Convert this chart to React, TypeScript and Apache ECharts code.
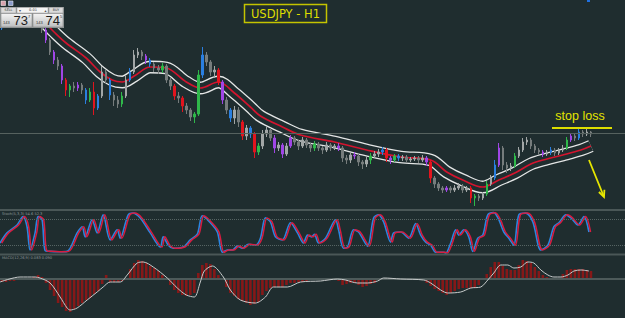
import React, { useEffect, useRef } from "react";
import * as echarts from "echarts";

const BG = "#1f2d2f";

// Hourly USDJPY candles: [open, close, low, high]
const candles: number[][] = [
  [144.72, 144.74, 144.70, 144.76], [144.74, 144.76, 144.72, 144.79], [144.76, 144.78, 144.73, 144.81], [144.78, 144.80, 144.75, 144.83],
  [144.80, 144.79, 144.76, 144.83], [144.79, 144.82, 144.77, 144.85], [144.82, 144.78, 144.75, 144.84], [144.78, 144.81, 144.74, 144.83],
  [144.81, 144.76, 144.73, 144.83], [144.76, 144.78, 144.72, 144.80], [144.78, 144.70, 144.67, 144.80], [144.70, 144.60, 144.57, 144.72],
  [144.60, 144.48, 144.45, 144.62], [144.48, 144.40, 144.36, 144.50], [144.40, 144.34, 144.30, 144.43], [144.34, 144.20, 144.16, 144.36],
  [144.20, 144.10, 144.04, 144.22], [144.10, 144.14, 144.03, 144.16], [144.14, 144.12, 144.08, 144.18], [144.12, 144.15, 144.09, 144.18],
  [144.15, 144.10, 144.06, 144.17], [144.10, 144.00, 143.96, 144.12], [144.00, 144.08, 143.98, 144.12], [144.08, 143.92, 143.85, 144.18],
  [143.92, 144.04, 143.90, 144.06], [144.04, 144.28, 144.02, 144.34], [144.28, 144.20, 144.16, 144.30], [144.20, 144.05, 144.00, 144.22],
  [144.05, 144.00, 143.94, 144.08], [144.00, 143.96, 143.92, 144.04], [143.96, 144.04, 143.93, 144.08], [144.04, 144.20, 144.02, 144.24],
  [144.20, 144.28, 144.18, 144.32], [144.28, 144.45, 144.26, 144.50], [144.45, 144.48, 144.42, 144.52], [144.48, 144.44, 144.40, 144.50],
  [144.44, 144.40, 144.36, 144.46], [144.40, 144.36, 144.33, 144.42], [144.36, 144.32, 144.28, 144.38], [144.32, 144.30, 144.26, 144.35],
  [144.30, 144.34, 144.27, 144.37], [144.34, 144.20, 144.17, 144.36], [144.20, 144.14, 144.10, 144.23], [144.14, 144.04, 144.00, 144.16],
  [144.04, 144.02, 143.97, 144.08], [144.02, 143.94, 143.88, 144.04], [143.94, 143.90, 143.86, 143.97], [143.90, 143.83, 143.79, 143.92],
  [143.83, 143.86, 143.77, 143.88], [143.86, 144.25, 143.84, 144.30], [144.25, 144.45, 144.22, 144.53], [144.45, 144.38, 144.34, 144.48],
  [144.38, 144.28, 144.24, 144.40], [144.28, 144.30, 144.22, 144.34], [144.30, 144.18, 144.15, 144.32], [144.18, 144.00, 143.96, 144.20],
  [144.00, 143.90, 143.86, 144.03], [143.90, 143.82, 143.78, 143.92], [143.82, 143.90, 143.76, 143.94], [143.90, 143.78, 143.73, 143.93],
  [143.78, 143.64, 143.60, 143.80], [143.64, 143.72, 143.60, 143.75], [143.72, 143.66, 143.62, 143.74], [143.66, 143.48, 143.42, 143.68],
  [143.48, 143.54, 143.45, 143.57], [143.54, 143.66, 143.51, 143.70], [143.66, 143.70, 143.63, 143.74], [143.70, 143.62, 143.59, 143.72],
  [143.62, 143.52, 143.47, 143.65], [143.52, 143.55, 143.49, 143.58], [143.55, 143.46, 143.42, 143.57], [143.46, 143.54, 143.44, 143.57],
  [143.54, 143.62, 143.52, 143.65], [143.62, 143.58, 143.55, 143.64], [143.58, 143.54, 143.50, 143.60], [143.54, 143.60, 143.52, 143.63],
  [143.60, 143.55, 143.52, 143.62], [143.55, 143.52, 143.48, 143.57], [143.52, 143.56, 143.49, 143.59], [143.56, 143.52, 143.49, 143.58],
  [143.52, 143.50, 143.46, 143.54], [143.50, 143.55, 143.48, 143.58], [143.55, 143.52, 143.49, 143.57], [143.52, 143.54, 143.50, 143.56],
  [143.54, 143.52, 143.49, 143.57], [143.52, 143.42, 143.38, 143.54], [143.42, 143.40, 143.36, 143.45], [143.40, 143.45, 143.37, 143.48],
  [143.45, 143.44, 143.41, 143.48], [143.44, 143.38, 143.34, 143.46], [143.38, 143.36, 143.31, 143.40], [143.36, 143.40, 143.33, 143.43],
  [143.40, 143.44, 143.36, 143.47], [143.44, 143.46, 143.42, 143.49], [143.46, 143.48, 143.43, 143.51], [143.48, 143.50, 143.45, 143.53],
  [143.50, 143.42, 143.38, 143.52], [143.42, 143.40, 143.36, 143.44], [143.40, 143.44, 143.38, 143.46], [143.44, 143.42, 143.39, 143.46],
  [143.42, 143.43, 143.39, 143.45], [143.43, 143.40, 143.37, 143.45], [143.40, 143.41, 143.38, 143.43], [143.41, 143.42, 143.39, 143.44],
  [143.42, 143.40, 143.37, 143.44], [143.40, 143.42, 143.38, 143.45], [143.42, 143.38, 143.34, 143.44], [143.38, 143.22, 143.17, 143.40],
  [143.22, 143.16, 143.12, 143.24], [143.16, 143.12, 143.09, 143.18], [143.12, 143.10, 143.07, 143.14], [143.10, 143.12, 143.08, 143.14],
  [143.12, 143.10, 143.07, 143.14], [143.10, 143.12, 143.08, 143.15], [143.12, 143.14, 143.10, 143.17], [143.14, 143.10, 143.07, 143.16],
  [143.10, 143.12, 143.08, 143.14], [143.12, 143.02, 142.97, 143.14], [143.02, 143.04, 142.94, 143.06], [143.04, 143.02, 142.99, 143.06],
  [143.02, 143.06, 143.00, 143.08], [143.06, 143.16, 143.04, 143.19], [143.16, 143.22, 143.14, 143.25], [143.22, 143.35, 143.20, 143.40],
  [143.35, 143.52, 143.33, 143.57], [143.52, 143.35, 143.30, 143.54], [143.35, 143.32, 143.27, 143.38], [143.32, 143.34, 143.29, 143.37],
  [143.34, 143.44, 143.32, 143.47], [143.44, 143.50, 143.42, 143.53], [143.50, 143.58, 143.48, 143.62], [143.58, 143.60, 143.55, 143.63],
  [143.60, 143.54, 143.51, 143.62], [143.54, 143.50, 143.47, 143.56], [143.50, 143.48, 143.45, 143.52], [143.48, 143.46, 143.43, 143.50],
  [143.46, 143.48, 143.44, 143.50], [143.48, 143.50, 143.45, 143.53], [143.50, 143.47, 143.44, 143.52], [143.47, 143.50, 143.45, 143.52],
  [143.50, 143.52, 143.48, 143.55], [143.52, 143.60, 143.50, 143.63], [143.60, 143.64, 143.58, 143.67], [143.64, 143.62, 143.59, 143.66],
  [143.62, 143.68, 143.60, 143.71], [143.68, 143.66, 143.63, 143.70], [143.66, 143.68, 143.64, 143.71], [143.68, 143.66, 143.63, 143.69],
];

// candles flagged by the colour-coding indicator (indices into candles)
const blueBars = [0, 21, 24, 27, 32, 37, 50, 57, 62, 95, 99, 123, 137, 144];
const purpleBars = [11, 13, 15, 19, 36, 55, 68, 70, 72, 84, 88, 97, 106, 111, 124, 135, 142];
const redBars = [16, 23, 43, 45, 54, 60, 63, 96, 107, 117];
const greenBars = [7, 17, 22, 30, 40, 48, 49, 64, 78, 92, 98, 118, 121, 128, 141];

// moving-average centre of the band: [bar index, price]
const maCenter: number[][] = [
  [8, 144.85], [10, 144.80], [13, 144.68], [16, 144.57], [21, 144.42], [24.5, 144.28], [27.5, 144.20],
  [30, 144.18], [33, 144.24], [37, 144.33], [41, 144.32], [46, 144.18], [49.5, 144.12], [54, 144.18], [58, 144.07],
  [62, 143.93], [64.5, 143.84], [70, 143.73], [74.5, 143.65], [83, 143.58], [91, 143.50], [99.5, 143.43], [107, 143.40],
  [111, 143.28], [115, 143.20], [120, 143.13], [124, 143.20], [128, 143.27], [132, 143.36], [136, 143.41], [140, 143.45],
  [144.5, 143.50], [147, 143.54],
];

// Stochastic %K: [bar index, value]
const stochMain: number[][] = [
  [-0.5, 25], [1.25, 48], [3.75, 66], [5.25, 85], [6.25, 62], [7, 9], [8.25, 48], [9, 85], [10, 78], [10.75, 8],
  [12, 6], [14, 5], [16.25, 6], [18.75, 48], [20, 62], [20.75, 39], [22.5, 78], [23.75, 48], [25.25, 89], [27, 32],
  [28.75, 55], [29.5, 36], [31.5, 89], [32.75, 93], [34.5, 82], [37, 48], [39.5, 16], [40.25, 39], [41.5, 20], [42.75, 13],
  [45.25, 16], [47, 32], [48.75, 45], [50, 87], [52, 71], [53.75, 50], [55, 4], [56.25, 9], [57.5, 9], [58.75, 18],
  [60, 13], [61.5, 22], [63.25, 20], [64.5, 36], [65.75, 82], [67, 73], [68.25, 39], [70, 32], [72, 71], [73.75, 48],
  [75.25, 25], [76.25, 43], [77.25, 39], [78, 45], [79, 25], [80.75, 36], [83.25, 78], [84, 55], [85.25, 13], [86.25, 16],
  [87.75, 55], [89, 50], [91.25, 18], [92.75, 82], [94, 89], [95.25, 73], [97, 27], [97.75, 48], [99.5, 50], [101.5, 36],
  [103.25, 69], [104.5, 43], [105.75, 27], [107, 20], [108.25, 4], [110.25, 4], [110.75, 2], [112, 25], [113.25, 55], [114, 43],
  [115.25, 55], [116.5, 39], [117.5, 6], [118.75, 36], [120, 43], [121.25, 89], [122.75, 94], [124, 78], [125.25, 50], [126.5, 36],
  [127.75, 20], [129, 89], [130.75, 93], [132.5, 73], [134.5, 9], [136.25, 20], [137.75, 62], [139, 71], [140.75, 89], [142, 82],
  [143.75, 66], [145.25, 85], [146.5, 50],
];
const stochLevels = [80, 20];

// MACD histogram, one value per candle
const macdHist = [
  -0.03, -0.03, -0.02, -0.02, -0.01, 0.0, 0.01, 0.01, 0.02, 0.04,
  0.02, -0.04, -0.11, -0.17, -0.24, -0.28, -0.32, -0.33, -0.30, -0.27,
  -0.24, -0.21, -0.19, -0.15, -0.12, -0.05, 0.04, -0.03, -0.03, -0.03,
  -0.02, 0.0, 0.10, 0.16, 0.19, 0.18, 0.16, 0.13, 0.11, 0.08,
  0.04, -0.01, -0.06, -0.11, -0.14, -0.16, -0.17, -0.16, -0.14, 0.06,
  0.14, 0.16, 0.15, 0.10, 0.04, 0.0, -0.08, -0.14, -0.17, -0.20,
  -0.22, -0.24, -0.26, -0.25, -0.23, -0.16, -0.12, -0.09, -0.08, -0.08,
  -0.08, -0.06, -0.04, -0.04, -0.03, -0.03, -0.02, -0.01, -0.01, -0.01,
  -0.01, -0.01, -0.01, -0.01, -0.02, -0.06, -0.05, -0.04, -0.04, -0.06,
  -0.08, -0.07, -0.05, -0.04, -0.01, 0.01, 0.0, 0.0, 0.0, -0.01,
  0.0, 0.0, -0.01, 0.0, -0.01, -0.01, -0.04, -0.07, -0.10, -0.12,
  -0.14, -0.16, -0.14, -0.12, -0.10, -0.09, -0.09, -0.09, -0.09, -0.06,
  -0.01, 0.05, 0.12, 0.17, 0.17, 0.13, 0.10, 0.09, 0.09, 0.14,
  0.19, 0.18, 0.16, 0.12, 0.08, 0.04, 0.02, 0.01, 0.0, 0.01,
  0.05, 0.09, 0.10, 0.10, 0.10, 0.10, 0.09, 0.08,
];

// MACD signal line: [bar index, value]
const macdSignal: number[][] = [
  [-0.5, -0.03], [4.5, 0.02], [8.25, 0.02], [9.5, 0.01], [12, -0.04], [14.5, -0.18], [16.25, -0.29], [17, -0.31],
  [18.75, -0.29], [21.25, -0.21], [23.75, -0.13], [25.25, -0.08], [27, -0.03], [29.5, -0.03], [31.25, 0.04], [33.75, 0.16],
  [35.25, 0.17], [37.75, 0.12], [41.25, 0.01], [43.75, -0.09], [46, -0.16], [48, -0.18], [49.5, -0.03], [50.5, 0.08],
  [52.5, 0.13], [55.25, 0.02], [57, -0.11], [59.5, -0.21], [63.25, -0.24], [65.75, -0.18], [67.75, -0.08], [71.25, -0.08],
  [74.5, -0.03], [79.5, -0.02], [83.75, 0.0], [85.75, -0.01], [88.75, -0.04], [91.25, -0.04], [93.75, -0.02], [95.25, 0.01],
  [99.5, 0.0], [105.25, -0.01], [107, -0.04], [109.5, -0.11], [111.25, -0.14], [114.5, -0.13], [117, -0.09], [119.5, -0.08],
  [121.25, -0.01], [122.75, 0.06], [124.5, 0.14], [126.25, 0.14], [127.75, 0.11], [129.5, 0.12], [131.25, 0.17], [132.75, 0.16],
  [134.5, 0.09], [136.25, 0.04], [137.75, 0.02], [139.5, 0.02], [141.25, 0.04], [142.75, 0.08], [144.5, 0.09], [146.5, 0.08],
];

const bidPrice = 143.67;
const slotCount = 156; // 148 candles + empty shift on the right
const hourLabels = Array.from({ length: slotCount }, (_, i) => `H${i}`);

const COLORS = { blue: "#2a7fe0", purple: "#a046e6", red: "#e2141e", green: "#2fb84a" };

function barColor(i: number): string | null {
  if (blueBars.includes(i)) return COLORS.blue;
  if (purpleBars.includes(i)) return COLORS.purple;
  if (redBars.includes(i)) return COLORS.red;
  if (greenBars.includes(i)) return COLORS.green;
  return null;
}

export default function App() {
  const ref = useRef<HTMLDivElement>(null);

  useEffect(() => {
    document.body.style.margin = "0";
    document.body.style.background = BG;
    const chart = echarts.init(ref.current as HTMLDivElement, null, { renderer: "svg" });

    const candleData = candles.map((c, i) => {
      const col = barColor(i);
      return col
        ? { value: c, itemStyle: { color: col, color0: col, borderColor: col, borderColor0: col } }
        : c;
    });

    const btnFill = new echarts.graphic.LinearGradient(0, 0, 0, 1, [
      { offset: 0, color: "#f4f4f4" },
      { offset: 1, color: "#bdbfc0" },
    ]);
    const txt = (x: number, y: number, text: string, o: any) => ({
      type: "text",
      x,
      y,
      z: 100,
      style: { text, textVerticalAlign: "middle", verticalAlign: "middle", ...o },
    });
    const yellow = "#dede00";

    const graphics: any[] = [
      { type: "line", z: 90, shape: { x1: 0, y1: 210, x2: 625, y2: 210 }, style: { stroke: "#4a5757", lineWidth: 2 } },
      { type: "line", z: 90, shape: { x1: 0, y1: 254.5, x2: 625, y2: 254.5 }, style: { stroke: "#4a5757", lineWidth: 2 } },
      txt(2, 213.8, "Stoch(5,3,3) 54.6 52.3", { fill: "#8d9797", fontSize: 3.6, fontFamily: "DejaVu Sans" }),
      txt(2, 258.2, "MACD(12,26,9) 0.083 0.090", { fill: "#8d9797", fontSize: 3.6, fontFamily: "DejaVu Sans" }),
      // title
      { type: "rect", z: 100, shape: { x: 244.5, y: 4.5, width: 82, height: 18 }, style: { fill: "none", stroke: "#c4c400", lineWidth: 1.5 } },
      txt(285.5, 14, "USDJPY - H1", { fill: yellow, fontSize: 11.5, fontFamily: "DejaVu Sans", align: "center", textAlign: "center" }),
      // stop loss annotation
      txt(580, 116, "stop loss", { fill: "#e4e400", fontSize: 12.5, fontFamily: "Liberation Sans", align: "center", textAlign: "center" }),
      { type: "line", z: 100, shape: { x1: 552, y1: 128, x2: 612, y2: 128 }, style: { stroke: yellow, lineWidth: 2 } },
      { type: "line", z: 100, shape: { x1: 589, y1: 160, x2: 603.6, y2: 196 }, style: { stroke: "#e6e600", lineWidth: 1.8 } },
      { type: "polyline", z: 100, shape: { points: [[598.9, 192], [604, 197], [604.4, 189.8]] }, style: { stroke: "#e6e600", lineWidth: 1.8, fill: "none" } },
      { type: "rect", z: 100, shape: { x: 587, y: 0, width: 3, height: 2 }, style: { fill: "#2070e0" } },
      // one-click trading panel
      { type: "rect", z: 100, shape: { x: 1, y: 1, width: 4.5, height: 4.5 }, style: { fill: "#d7a2ad", stroke: "#efe6e8", lineWidth: 0.6 } },
      { type: "rect", z: 100, shape: { x: 8.5, y: 1, width: 4.5, height: 4.5 }, style: { fill: "#8a9ccc", stroke: "#e2e6f0", lineWidth: 0.6 } },
      { type: "rect", z: 100, shape: { x: 0, y: 7, width: 64, height: 21 }, style: { fill: "#8e9495" } },
      { type: "rect", z: 100, shape: { x: 1, y: 7.5, width: 15, height: 5.5 }, style: { fill: "#dcdcdc", stroke: "#9a9a9a", lineWidth: 0.5 } },
      txt(8.5, 10.3, "SELL", { fill: "#333", fontSize: 3.3, fontFamily: "DejaVu Sans", align: "center", textAlign: "center" }),
      { type: "rect", z: 100, shape: { x: 17, y: 7.5, width: 31, height: 5.5 }, style: { fill: "#f4f4f4", stroke: "#9a9a9a", lineWidth: 0.5 } },
      txt(20, 10.3, "▾", { fill: "#555", fontSize: 4, fontFamily: "DejaVu Sans", align: "center", textAlign: "center" }),
      txt(33, 10.3, "0.01", { fill: "#333", fontSize: 3.6, fontFamily: "DejaVu Sans", align: "center", textAlign: "center" }),
      txt(45.5, 10.3, "▴", { fill: "#555", fontSize: 4, fontFamily: "DejaVu Sans", align: "center", textAlign: "center" }),
      { type: "rect", z: 100, shape: { x: 49, y: 7.5, width: 14, height: 5.5 }, style: { fill: "#dcdcdc", stroke: "#9a9a9a", lineWidth: 0.5 } },
      txt(56, 10.3, "BUY", { fill: "#333", fontSize: 3.3, fontFamily: "DejaVu Sans", align: "center", textAlign: "center" }),
      { type: "rect", z: 100, shape: { x: 1, y: 13.5, width: 31, height: 13.5 }, style: { fill: btnFill, stroke: "#8a8a8a", lineWidth: 0.6 } },
      { type: "rect", z: 100, shape: { x: 33, y: 13.5, width: 30, height: 13.5 }, style: { fill: btnFill, stroke: "#8a8a8a", lineWidth: 0.6 } },
      txt(3, 22.5, "143", { fill: "#333", fontSize: 4, fontFamily: "Liberation Sans" }),
      txt(13.5, 20.5, "73", { fill: "#1e1e1e", fontSize: 13, fontFamily: "Liberation Sans" }),
      txt(28, 16.5, "7", { fill: "#333", fontSize: 4, fontFamily: "Liberation Sans" }),
      txt(36, 22.5, "143", { fill: "#333", fontSize: 4, fontFamily: "Liberation Sans" }),
      txt(45.5, 20.5, "74", { fill: "#1e1e1e", fontSize: 13, fontFamily: "Liberation Sans" }),
      txt(60, 16.5, "5", { fill: "#333", fontSize: 4, fontFamily: "Liberation Sans" }),
    ];

    const option: any = {
      animation: false,
      backgroundColor: BG,
      grid: [
        { left: 0, right: 0, top: 0, height: 208 },
        { left: 0, right: 0, top: 210, height: 44 },
        { left: 0, right: 0, top: 256, height: 62 },
      ],
      xAxis: [
        { type: "category", gridIndex: 0, data: hourLabels, show: false },
        { type: "value", gridIndex: 0, min: -0.5, max: slotCount - 0.5, show: false },
        { type: "value", gridIndex: 1, min: -0.5, max: slotCount - 0.5, show: false },
        { type: "value", gridIndex: 1, min: -0.9, max: slotCount - 0.9, show: false },
        { type: "category", gridIndex: 2, data: hourLabels, show: false },
        { type: "value", gridIndex: 2, min: -0.5, max: slotCount - 0.5, show: false },
      ],
      yAxis: [
        { type: "value", gridIndex: 0, min: 142.92, max: 145.0, show: false },
        { type: "value", gridIndex: 1, min: 0, max: 100, show: false },
        { type: "value", gridIndex: 2, min: -0.39, max: 0.23, show: false },
      ],
      series: [
        {
          name: "band-outer", type: "line", xAxisIndex: 1, yAxisIndex: 0, data: maCenter, smooth: 0.35,
          showSymbol: false, symbol: "none", silent: true, z: 1,
          lineStyle: { color: "#e4e6e6", width: 12.8, cap: "butt", join: "round" },
        },
        {
          name: "band-inner", type: "line", xAxisIndex: 1, yAxisIndex: 0, data: maCenter, smooth: 0.35,
          showSymbol: false, symbol: "none", silent: true, z: 2,
          lineStyle: { color: BG, width: 10.2, cap: "butt", join: "round" },
        },
        {
          name: "MA", type: "line", xAxisIndex: 1, yAxisIndex: 0, data: maCenter, smooth: 0.35,
          showSymbol: false, symbol: "none", silent: true, z: 3,
          lineStyle: { color: "#d3142e", width: 1.7 },
        },
        {
          name: "USDJPY", type: "candlestick", xAxisIndex: 0, yAxisIndex: 0, data: candleData, z: 4,
          barWidth: 2, silent: true,
          itemStyle: { color: "#a2a7a7", color0: "#767c7c", borderColor: "#a2a7a7", borderColor0: "#767c7c", borderWidth: 1 },
          markLine: {
            silent: true, symbol: ["none", "none"], label: { show: false },
            lineStyle: { color: "#56625f", width: 1, type: "solid" },
            data: [{ yAxis: bidPrice }],
          },
        },
        {
          name: "Stoch signal", type: "line", xAxisIndex: 3, yAxisIndex: 1, data: stochMain, smooth: 0.3,
          showSymbol: false, symbol: "none", silent: true, z: 3,
          lineStyle: { color: "#d81c40", width: 1.5 },
        },
        {
          name: "Stoch main", type: "line", xAxisIndex: 2, yAxisIndex: 1, data: stochMain, smooth: 0.3,
          showSymbol: false, symbol: "none", silent: true, z: 2,
          lineStyle: { color: "#2a86e0", width: 1.6 },
          markLine: {
            silent: true, symbol: ["none", "none"], label: { show: false },
            lineStyle: { color: "#566463", width: 1, type: "dotted" },
            data: stochLevels.map((v) => ({ yAxis: v })),
          },
        },
        {
          name: "MACD", type: "bar", xAxisIndex: 4, yAxisIndex: 2, data: macdHist, barWidth: 2.6, silent: true,
          itemStyle: { color: "#861818" },
          markLine: {
            silent: true, symbol: ["none", "none"], label: { show: false },
            lineStyle: { color: "#4d5a5a", width: 2, type: "solid" },
            data: [{ yAxis: 0 }],
          },
        },
        {
          name: "Signal", type: "line", xAxisIndex: 5, yAxisIndex: 2, data: macdSignal, smooth: 0.3,
          showSymbol: false, symbol: "none", silent: true, z: 5,
          lineStyle: { color: "#c6caca", width: 1 },
        },
      ],
      graphic: graphics,
    };

    chart.setOption(option);
    return () => chart.dispose();
  }, []);

  return <div ref={ref} style={{ width: 625, height: 318, background: BG }} />;
}
